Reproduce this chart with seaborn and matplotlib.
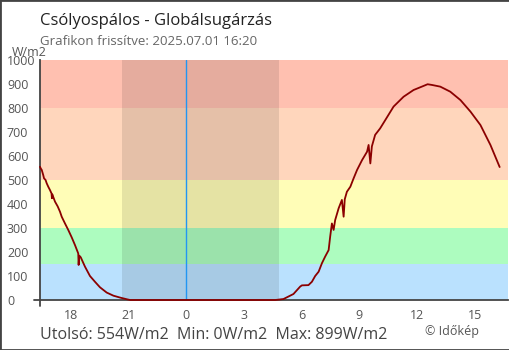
import matplotlib
matplotlib.use("Agg")
import matplotlib.pyplot as plt
from matplotlib.patches import Rectangle
import seaborn as sns
import pandas as pd

# ---- data (hours relative to midnight of 2025-07-01) ----
times = [-7.62, -7.58, -7.53, -7.45, -7.41, -7.33, -7.27, -7.19, -7.10, -7.02, -7.00, -6.98,
         -6.84, -6.70, -6.58, -6.49, -6.32, -6.15, -5.97, -5.80, -5.63, -5.61, -5.58, -5.50,
         -5.28, -5.02, -4.76, -4.50, -4.15, -3.80, -3.45, -3.10, -2.93,
         4.62, 5.05, 5.57, 5.92, 6.01, 6.35, 6.53, 6.70, 6.88, 7.05, 7.22, 7.40, 7.48, 7.57,
         7.66, 7.74, 7.92, 8.09, 8.18, 8.24, 8.35, 8.53, 8.70, 8.88, 9.14, 9.40, 9.48, 9.57,
         9.65, 9.82, 10.08, 10.35, 10.78, 11.30, 11.82, 12.34, 12.55, 12.78, 13.21, 13.73,
         14.26, 14.78, 15.30, 15.82, 16.30]
values = [555, 548, 542, 520, 507, 500, 486, 472, 458, 444, 424, 440,
          410, 390, 368, 347, 319, 292, 261, 229, 194, 146, 185, 178,
          139, 100, 76, 53, 31, 18, 10, 3, 0,
          0, 4, 25, 56, 61, 62, 76, 100, 118, 153, 181, 208, 264, 319,
          292, 333, 382, 417, 347, 420, 451, 472, 507, 542, 583, 618, 646, 569,
          640, 688, 715, 750, 806, 847, 875, 892, 899, 896, 889, 868,
          833, 785, 729, 646, 554]

band_edges = [0, 150, 300, 500, 800, 1000]
band_colors = ["#bae1fe", "#adfcbf", "#fffdb7", "#ffd6bc", "#ffc0b0"]
night_start, night_end = -3.35, 4.83
x_ticks = [-6, -3, 0, 3, 6, 9, 12, 15]
x_tick_labels = ["18", "21", "0", "3", "6", "9", "12", "15"]
y_ticks = [0, 100, 200, 300, 400, 500, 600, 700, 800, 900, 1000]

title = "Csólyospálos - Globálsugárzás"
subtitle = "Grafikon frissítve: 2025.07.01 16:20"
stats = "Utolsó: 554W/m2  Min: 0W/m2  Max: 899W/m2"
credit = "© Időkép"
unit = "W/m2"

sns.set_style("white")
plt.rcParams["font.family"] = ["Open Sans", "DejaVu Sans"]

W, H = 510, 350
fig = plt.figure(figsize=(W / 100, H / 100), dpi=100)
x0, x1, y0, y1 = 40, 508.5, 60, 300
ax = fig.add_axes([x0 / W, 1 - y1 / H, (x1 - x0) / W, (y1 - y0) / H])

for lo, hi, c in zip(band_edges[:-1], band_edges[1:], band_colors):
    ax.axhspan(lo, hi, color=c, lw=0, zorder=0)
ax.axvspan(night_start, night_end, color="black", alpha=0.1, lw=0, zorder=1)
ax.axvline(0, color="#2196f3", lw=1.0, zorder=2)

df = pd.DataFrame({"t": times, "v": values})
sns.lineplot(data=df, x="t", y="v", ax=ax, color="#8b0000", lw=1.3, zorder=4,
             estimator=None, sort=False, clip_on=False)

ax.set_xlim(-7.62, 16.76)
ax.set_ylim(0, 1000)
ax.set_xlabel("")
ax.set_ylabel("")
ax.set_xticks(x_ticks)
ax.set_xticklabels(x_tick_labels)
ax.set_yticks(y_ticks)
ax.set_yticklabels([str(v) for v in y_ticks])
for lab in ax.get_yticklabels():
    lab.set_horizontalalignment("left")

axis_col = "#444444"
ax.tick_params(axis="both", direction="inout", length=8.6, width=1.3, color=axis_col,
               labelcolor="#555555", labelsize=9)
ax.tick_params(axis="y", pad=19.5)
ax.tick_params(axis="x", pad=2.5)
for s in ["top", "right"]:
    ax.spines[s].set_visible(False)
for s in ["left", "bottom"]:
    ax.spines[s].set_color(axis_col)
    ax.spines[s].set_linewidth(1.3)
# extended axis lines
ax.plot([-6 / (x1 - x0), 0], [0, 0], transform=ax.transAxes, color=axis_col, lw=1.3, clip_on=False)
ax.plot([0, 0], [-6 / (y1 - y0), 0], transform=ax.transAxes, color=axis_col, lw=1.3, clip_on=False)

fig.text(40 / W, 1 - 25 / H, title, fontsize=12, color="#222222", va="baseline", ha="left")
fig.text(40 / W, 1 - 45 / H, subtitle, fontsize=9.5, color="#666666", va="baseline", ha="left")
fig.text(12 / W, 1 - 56 / H, unit, fontsize=9, color="#555555", va="baseline", ha="left")
fig.text(40 / W, 1 - 339 / H, stats, fontsize=11.5, color="#444444", va="baseline", ha="left")
fig.text(425 / W, 1 - 335 / H, credit, fontsize=9, color="#555555", va="baseline", ha="left")

fig.patches.append(Rectangle((0, 0), 1, 1, transform=fig.transFigure, fill=False,
                             edgecolor="#444444", lw=2.0))

fig.savefig("out.png", dpi=100)
